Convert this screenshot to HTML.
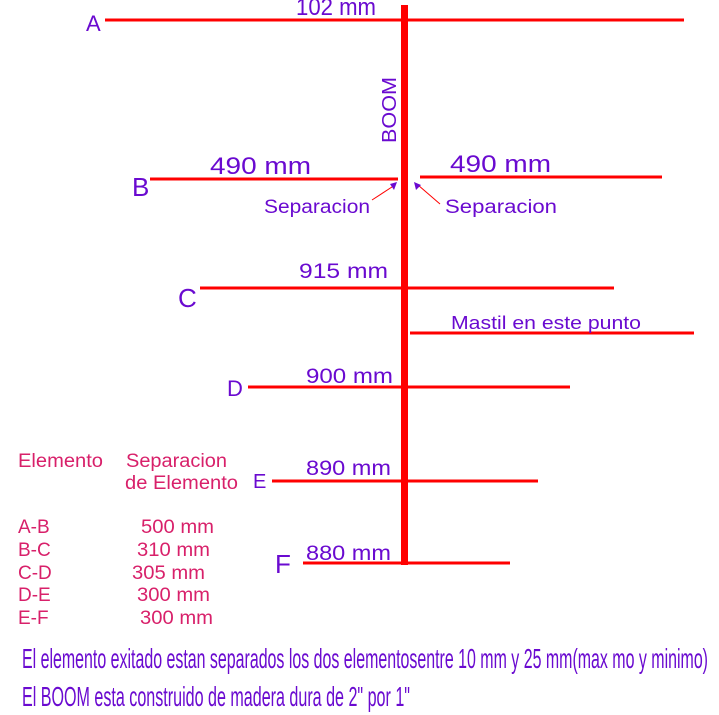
<!DOCTYPE html>
<html><head><style>
body{margin:0;background:#fff;}
svg{display:block}
text{font-family:"Liberation Sans",sans-serif;}
.p{fill:#6a0ad0}
.k{fill:#d8206a;font-size:19px}
</style></head><body>
<svg width="719" height="715" viewBox="0 0 719 715">
<g stroke="#ff0000" stroke-width="3">
<line x1="105" y1="20" x2="684" y2="20"/>
<line x1="150" y1="179" x2="398" y2="179"/>
<line x1="420" y1="177" x2="662" y2="177"/>
<line x1="200" y1="288" x2="614" y2="288"/>
<line x1="410" y1="333" x2="694" y2="333"/>
<line x1="248" y1="387" x2="570" y2="387"/>
<line x1="272" y1="481" x2="538" y2="481"/>
<line x1="303" y1="563" x2="510" y2="563"/>
</g>
<rect x="401" y="5" width="7" height="560" fill="#ff0000"/>
<g stroke="#ff0000" stroke-width="1"><line x1="372" y1="200" x2="395" y2="185"/><line x1="440" y1="204" x2="418" y2="185"/></g>
<polygon points="397,182 390,184 394,190" fill="#6a0ad0"/>
<polygon points="414,182 416,190 421,185" fill="#6a0ad0"/>
<g class="p">
<text x="86" y="31" font-size="22">A</text>
<text x="132" y="196" font-size="26">B</text>
<text x="178" y="307" font-size="26">C</text>
<text x="227" y="396" font-size="22">D</text>
<text x="253" y="488" font-size="20">E</text>
<text x="275" y="573" font-size="26">F</text>
<text x="296" y="15" font-size="24" textLength="80" lengthAdjust="spacingAndGlyphs">102 mm</text>
<text x="210" y="174" font-size="24" textLength="101" lengthAdjust="spacingAndGlyphs">490 mm</text>
<text x="450" y="172" font-size="24" textLength="101" lengthAdjust="spacingAndGlyphs">490 mm</text>
<text x="299" y="278" font-size="21" textLength="89" lengthAdjust="spacingAndGlyphs">915 mm</text>
<text x="306" y="383" font-size="21" textLength="87" lengthAdjust="spacingAndGlyphs">900 mm</text>
<text x="306" y="475" font-size="21" textLength="85" lengthAdjust="spacingAndGlyphs">890 mm</text>
<text x="306" y="560" font-size="21" textLength="85" lengthAdjust="spacingAndGlyphs">880 mm</text>
<text x="264" y="213" font-size="19" textLength="106" lengthAdjust="spacingAndGlyphs">Separacion</text>
<text x="445" y="213" font-size="19" textLength="112" lengthAdjust="spacingAndGlyphs">Separacion</text>
<text x="451" y="329" font-size="18" textLength="190" lengthAdjust="spacingAndGlyphs">Mastil en este punto</text>
<text transform="translate(396,143) rotate(-90)" font-size="20" textLength="66" lengthAdjust="spacingAndGlyphs">BOOM</text>
<text x="22" y="668" font-size="28" textLength="686" lengthAdjust="spacingAndGlyphs">El elemento exitado estan  separados los dos elementosentre 10 mm y 25 mm(max mo y minimo)</text>
<text x="22" y="706" font-size="28" textLength="388" lengthAdjust="spacingAndGlyphs">El BOOM esta construido de madera  dura de 2" por 1"</text>
</g>
<g class="k">
<text x="18" y="467" textLength="85" lengthAdjust="spacingAndGlyphs">Elemento</text>
<text x="126" y="467" textLength="101" lengthAdjust="spacingAndGlyphs">Separacion</text>
<text x="125" y="489" textLength="113" lengthAdjust="spacingAndGlyphs">de Elemento</text>
<text x="18" y="533">A-B</text><text x="141" y="533" textLength="73" lengthAdjust="spacingAndGlyphs">500 mm</text>
<text x="18" y="556">B-C</text><text x="137" y="556" textLength="73" lengthAdjust="spacingAndGlyphs">310 mm</text>
<text x="18" y="579">C-D</text><text x="132" y="579" textLength="73" lengthAdjust="spacingAndGlyphs">305 mm</text>
<text x="18" y="601">D-E</text><text x="137" y="601" textLength="73" lengthAdjust="spacingAndGlyphs">300 mm</text>
<text x="18" y="624">E-F</text><text x="140" y="624" textLength="73" lengthAdjust="spacingAndGlyphs">300 mm</text>
</g>
</svg>
</body></html>
